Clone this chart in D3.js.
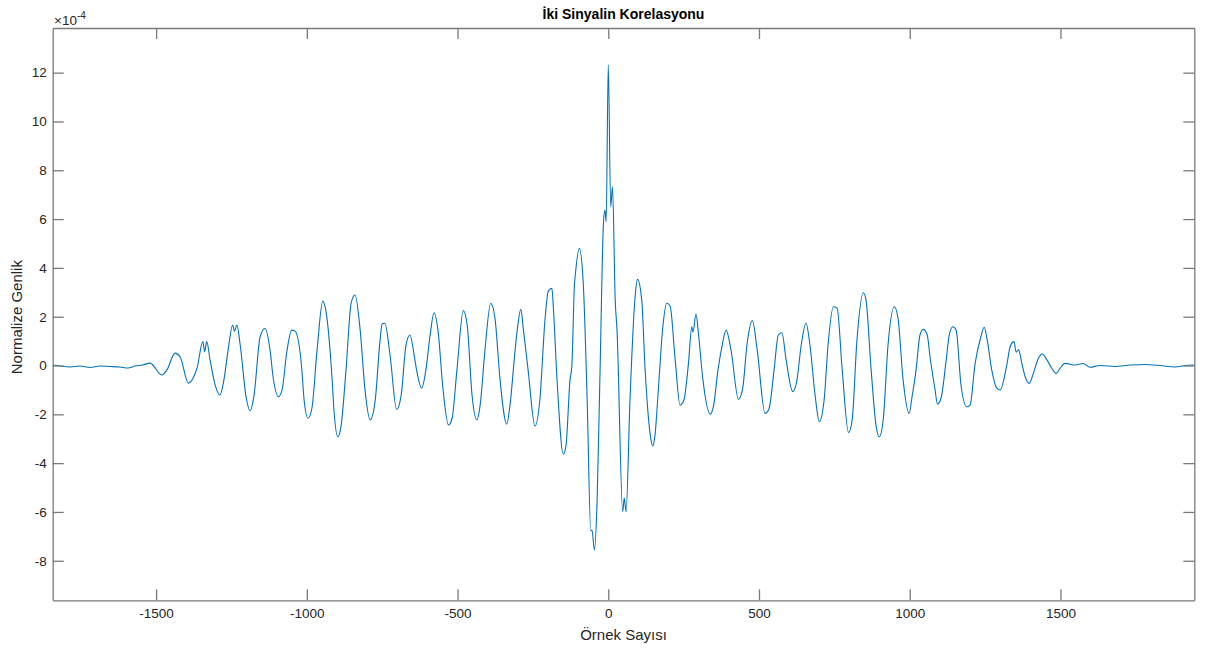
<!DOCTYPE html>
<html>
<head>
<meta charset="utf-8">
<script src="https://cdn.jsdelivr.net/npm/d3@7"></script>
<style>
  body { margin: 0; background: #fff; }
  svg { display: block; font-family: "Liberation Sans", Arial, sans-serif; }
</style>
</head>
<body>
<svg id="chart"></svg>
<script>
// Data (lag in samples, amplitude in units of 1e-4)
const lags = [
  -1842, -1819, -1785, -1752, -1719, -1686, -1653, -1620, -1593, -1570, -1544, -1520,
  -1481, -1464, -1437, -1420, -1393, -1377, -1364, -1345, -1339, -1332, -1321, -1304,
  -1288, -1275, -1261, -1246, -1240, -1232, -1221, -1201, -1188, -1175, -1155, -1139,
  -1122, -1112, -1094, -1082, -1067, -1050, -1039, -1017, -1009, -996, -983, -966,
  -947, -936, -916, -910, -897, -886, -870, -853, -840, -823, -807, -790,
  -773, -757, -750, -741, -724, -702, -687, -671, -658, -644, -635, -619,
  -605, -591, -578, -565, -548, -530, -518, -502, -481, -468, -452, -436,
  -425, -409, -390, -376, -359, -337, -326, -309, -302, -290, -282, -266,
  -243, -227, -210, -199, -187, -182, -170, -149, -140, -127, -121, -112,
  -110, -96, -83, -70, -58, -54, -46, -37, -27, -16, -11, -7,
  0, 8, 14, 23, 29, 48, 53, 59, 72, 89, 97, 111,
  122, 139, 148, 155, 166, 181, 194, 205, 222, 238, 251, 266,
  277, 281, 291, 299, 314, 338, 349, 364, 377, 391, 407, 432,
  446, 460, 478, 494, 520, 533, 550, 564, 576, 590, 612, 626,
  640, 656, 669, 686, 700, 716, 729, 747, 759, 776, 797, 809,
  825, 846, 855, 872, 888, 899, 912, 928, 949, 961, 978, 998,
  1007, 1021, 1034, 1045, 1058, 1068, 1084, 1092, 1104, 1121, 1131, 1143,
  1154, 1170, 1189, 1200, 1217, 1236, 1247, 1257, 1272, 1289, 1300, 1322,
  1333, 1346, 1353, 1361, 1372, 1383, 1397, 1410, 1427, 1440, 1455, 1471,
  1486, 1499, 1515, 1549, 1575, 1598, 1631, 1681, 1731, 1781, 1831, 1880,
  1913, 1943
]
const corr = [
  0.02, -0.02, -0.06, -0.02, -0.08, -0.02, -0.04, -0.06, -0.10, -0.02, 0.02, 0.10,
  -0.39, -0.18, 0.51, 0.35, -0.72, -0.51, -0.10, 0.98, 0.57, 0.98, 0.23, -0.80,
  -1.21, -0.59, 0.64, 1.66, 1.41, 1.66, 0.84, -1.33, -1.85, -1.21, 1.18, 1.52,
  0.64, -0.46, -1.28, -1.00, 0.51, 1.45, 1.41, -0.10, -1.41, -2.16, -1.74, 0.64,
  2.64, 2.19, -0.59, -1.82, -2.92, -2.44, -0.18, 2.56, 2.89, 1.45, -1.00, -2.23,
  -1.41, 1.05, 1.70, 1.73, 0.43, -1.80, -1.21, 0.84, 1.25, 0.43, -0.25, -0.93,
  -0.18, 1.25, 2.16, 1.45, -1.00, -2.44, -2.15, -0.18, 2.25, 1.66, -1.21, -2.23,
  -1.62, 0.64, 2.55, 1.95, -0.59, -2.40, -1.62, 0.64, 1.45, 2.30, 1.52, -0.18,
  -2.48, -1.41, 1.86, 3.05, 3.16, 2.34, -0.59, -3.63, -3.26, -0.59, -0.05, 3.37,
  3.64, 4.80, 3.38, -1.41, -6.78, -6.74, -7.56, -5.51, -0.05, 5.83, 6.37, 5.89,
  12.32, 6.51, 7.33, 2.68, 1.45, -5.99, -5.43, -5.99, -1.41, 2.82, 3.53, 2.68,
  -0.11, -2.82, -3.30, -2.85, -1.00, 1.59, 2.55, 2.44, 0.23, -1.62, -1.41, 0.09,
  1.59, 1.37, 2.11, 1.32, -0.59, -1.99, -1.66, -0.18, 0.77, 1.45, 0.64, -1.39,
  -0.93, 0.84, 1.84, 0.64, -1.96, -1.78, -0.18, 1.25, 1.34, 0.23, -1.07, -0.59,
  0.84, 1.73, 0.84, -1.21, -2.30, -1.41, 0.84, 2.41, 2.36, -0.18, -2.75, -2.23,
  1.05, 2.98, 2.68, -0.18, -2.44, -2.92, -2.23, 0.84, 2.41, 1.95, -0.59, -1.96,
  -1.34, -0.18, 1.25, 1.48, 1.25, 0.30, -1.00, -1.58, -1.33, 0.23, 1.25, 1.59,
  1.45, -0.80, -1.69, -1.62, 0.09, 1.18, 1.57, 1.05, -0.18, -0.93, -1.00, 0.02,
  0.77, 0.98, 0.55, 0.64, 0.09, -0.46, -0.73, -0.32, 0.30, 0.47, 0.23, -0.11,
  -0.32, -0.11, 0.09, 0.02, 0.08, -0.07, 0.00, -0.04, 0.02, 0.04, 0.00, -0.06,
  0.00, 0.02
]
const xTicks = [-1500, -1000, -500, 0, 500, 1000, 1500]
const yTicks = [-8, -6, -4, -2, 0, 2, 4, 6, 8, 10, 12]
const xLimits = [-1843, 1944]
const yLimits = [-9.62, 13.83]

const titleText = "İki Sinyalin Korelasyonu"
const xLabelText = "Örnek Sayısı"
const yLabelText = "Normalize Genlik"

// Layout
var svgWidth = 1218, svgHeight = 651
var plotLeft = 52.7, plotRight = 1194.3, plotTop = 28, plotBottom = 600.3
var tickLen = 11
var axisColor = "#7a7a7a"
var textColor = "#262626"

var svg = d3.select("#chart")
    .attr("width", svgWidth)
    .attr("height", svgHeight)

var x = d3.scaleLinear().domain(xLimits).range([plotLeft, plotRight])
var y = d3.scaleLinear().domain(yLimits).range([plotBottom, plotTop])

var fmt = (d) => String(d)

// signal
var points = lags.map((d, i) => [d, corr[i]])

var line = d3.line()
    .x((d) => x(d[0]))
    .y((d) => y(d[1]))
    .curve(d3.curveMonotoneX)

svg.append("path")
    .datum(points)
    .attr("fill", "none")
    .attr("stroke", "#0072BD")
    .attr("stroke-width", 1.1)
    .attr("stroke-linejoin", "round")
    .attr("d", line)

// axes (box with ticks inside on all four sides)
svg.append("g")
    .attr("transform", "translate(0," + plotBottom + ")")
    .call(d3.axisBottom(x).tickValues(xTicks).tickSizeInner(-tickLen).tickSizeOuter(0).tickPadding(8).tickFormat(fmt))
svg.append("g")
    .attr("transform", "translate(0," + plotTop + ")")
    .call(d3.axisTop(x).tickValues(xTicks).tickSizeInner(-tickLen).tickSizeOuter(0).tickFormat(""))
svg.append("g")
    .attr("transform", "translate(" + plotLeft + ",0)")
    .call(d3.axisLeft(y).tickValues(yTicks).tickSizeInner(-tickLen).tickSizeOuter(0).tickPadding(6).tickFormat(fmt))
svg.append("g")
    .attr("transform", "translate(" + plotRight + ",0)")
    .call(d3.axisRight(y).tickValues(yTicks).tickSizeInner(-tickLen).tickSizeOuter(0).tickFormat(""))

svg.selectAll(".domain, .tick line")
    .attr("stroke", axisColor)
    .attr("stroke-width", 1.3)
svg.selectAll(".tick text")
    .attr("fill", textColor)
    .style("font-size", "13.5px")
    .style("font-family", "Liberation Sans, Arial, sans-serif")

// exponent
var expo = svg.append("text")
    .attr("x", 54)
    .attr("y", 25)
    .attr("fill", textColor)
    .style("font-size", "13.5px")
expo.append("tspan").text("×10")
expo.append("tspan")
    .attr("dy", -6)
    .style("font-size", "10px")
    .text("-4")

// labels
svg.append("text")
    .attr("x", (plotLeft + plotRight) / 2)
    .attr("y", 19)
    .attr("text-anchor", "middle")
    .attr("fill", "#000")
    .style("font-size", "14px")
    .style("font-weight", "bold")
    .text(titleText)

svg.append("text")
    .attr("x", (plotLeft + plotRight) / 2)
    .attr("y", 640)
    .attr("text-anchor", "middle")
    .attr("fill", textColor)
    .style("font-size", "15px")
    .text(xLabelText)

svg.append("text")
    .attr("transform", "translate(22," + ((plotTop + plotBottom) / 2 + 3) + ") rotate(-90)")
    .attr("text-anchor", "middle")
    .attr("fill", textColor)
    .style("font-size", "15px")
    .text(yLabelText)
</script>
</body>
</html>
